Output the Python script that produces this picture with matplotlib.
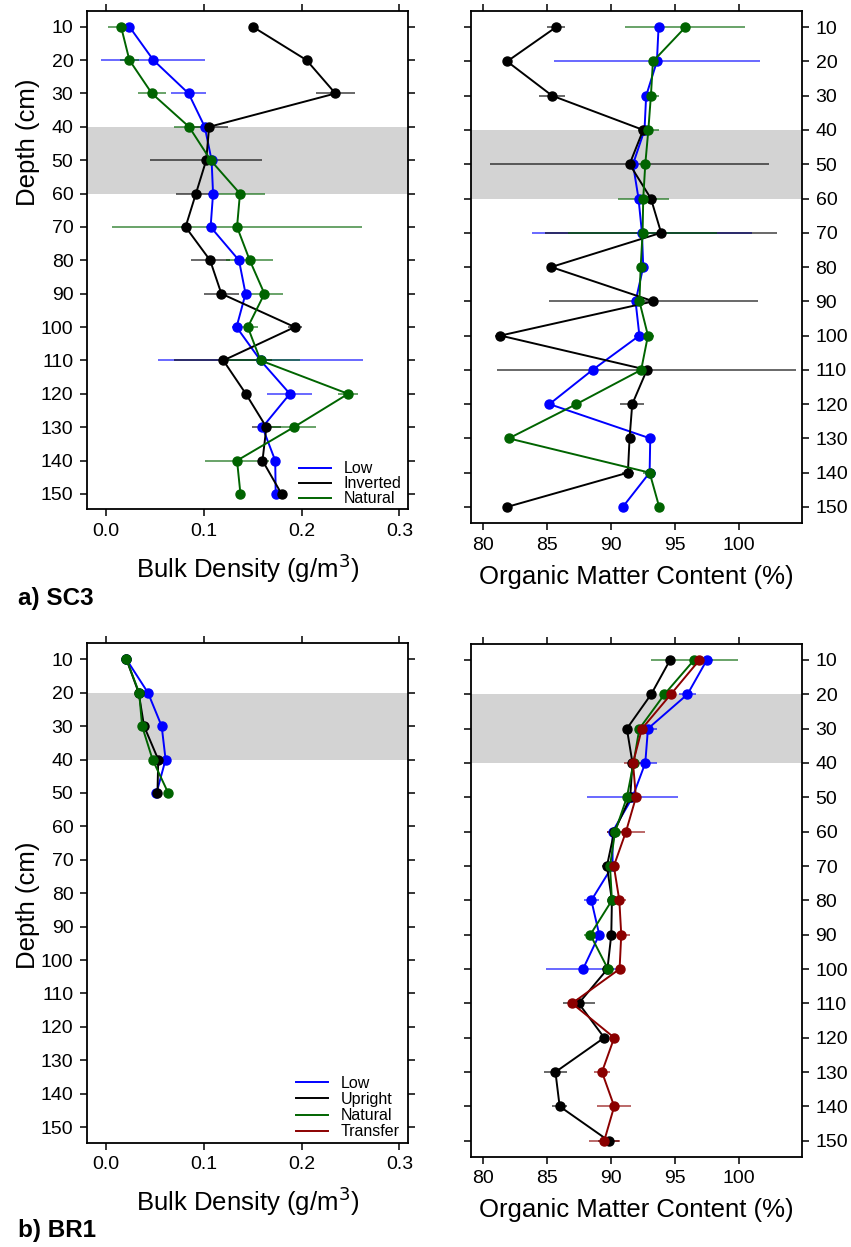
import matplotlib
matplotlib.use('Agg')
import matplotlib.pyplot as plt
from matplotlib.lines import Line2D
from matplotlib.colors import to_rgba
import numpy as np

plt.rcParams['font.family'] = ['Liberation Sans', 'DejaVu Sans']

depth = [10, 20, 30, 40, 50, 60, 70, 80, 90, 100, 110, 120, 130, 140, 150]

# a) SC3 - bulk density
sc3_low_bd = [0.024, 0.0485, 0.0845, 0.101, 0.108, 0.1095, 0.107, 0.136, 0.1427, 0.1335, 0.158, 0.188, 0.160, 0.173, 0.1735]
sc3_low_bd_err = [0.004, 0.053, 0.018, 0.005, 0.005, 0.005, 0.005, 0.005, 0.005, 0.005, 0.105, 0.023, 0.005, 0.003, 0.002]
sc3_inv_bd = [0.150, 0.205, 0.2345, 0.1055, 0.1025, 0.092, 0.0814, 0.1065, 0.118, 0.193, 0.120, 0.143, 0.164, 0.160, 0.1795]
sc3_inv_bd_err = [0.003, 0.004, 0.02, 0.019, 0.057, 0.02, 0.005, 0.02, 0.018, 0.007, 0.05, 0.003, 0.015, 0.003, 0.002]
sc3_nat_bd = [0.0155, 0.024, 0.047, 0.085, 0.107, 0.137, 0.134, 0.147, 0.162, 0.145, 0.158, 0.2475, 0.192, 0.134, 0.1375]
sc3_nat_bd_err = [0.013, 0.01, 0.014, 0.015, 0.005, 0.026, 0.128, 0.024, 0.019, 0.01, 0.04, 0.01, 0.023, 0.033, 0.002]

# a) SC3 - organic matter
sc3_low_om = [93.7, 93.57, 92.73, 92.6, 91.7, 92.13, 92.4, 92.5, 91.9, 92.2, 88.54, 85.16, 93.05, 93.0, 90.9]
sc3_low_om_err = [0.3, 8.05, 0.3, 0.3, 0.3, 0.3, 8.6, 0.2, 0.3, 0.4, 0.3, 0.3, 0.2, 0.3, 0.2]
sc3_inv_om = [85.68, 81.85, 85.37, 92.5, 91.43, 93.1, 93.9, 85.3, 93.3, 81.33, 92.79, 91.64, 91.43, 91.3, 81.85]
sc3_inv_om_err = [0.68, 0.3, 1.0, 0.3, 10.9, 0.5, 9.1, 0.3, 8.2, 0.4, 11.7, 0.94, 0.2, 0.5, 0.2]
sc3_nat_om = [95.8, 93.26, 93.1, 92.9, 92.66, 92.5, 92.45, 92.3, 92.2, 92.87, 92.34, 87.27, 81.98, 93.0, 93.75]
sc3_nat_om_err = [4.7, 0.3, 0.6, 0.8, 0.3, 2.0, 5.8, 0.2, 0.3, 0.5, 0.3, 0.3, 0.3, 0.5, 0.2]

# b) BR1 - bulk density (10-50 cm)
br1_bd_depth = [10, 20, 30, 40, 50]
br1_low_bd = [0.021, 0.043, 0.057, 0.061, 0.0517]
br1_upr_bd = [0.021, 0.0335, 0.039, 0.0535, 0.0527]
br1_nat_bd = [0.021, 0.034, 0.037, 0.0477, 0.0637]
br1_bd_err = [0.002, 0.002, 0.002, 0.002, 0.002]

# b) BR1 - organic matter
br1_short_depth = [10, 20, 30, 40, 50, 60, 70, 80, 90, 100]
br1_low_om = [97.48, 95.96, 92.87, 92.66, 91.66, 90.1, 90.1, 88.44, 89.06, 87.79]
br1_low_om_err = [0.5, 0.7, 0.7, 0.9, 3.55, 0.3, 0.5, 0.6, 0.4, 2.87]
br1_nat_om = [96.48, 94.16, 92.2, 91.74, 91.22, 90.3, 89.9, 90.05, 88.36, 89.74]
br1_nat_om_err = [3.4, 0.3, 0.3, 0.3, 0.3, 0.3, 0.3, 0.3, 0.5, 0.5]
br1_upr_om = [94.6, 93.12, 91.22, 91.66, 91.48, 90.23, 89.66, 90.05, 90.0, 89.7, 87.45, 89.45, 85.63, 85.96, 89.79]
br1_upr_om_err = [0.3, 0.3, 0.3, 0.3, 0.3, 0.6, 0.4, 0.3, 0.3, 0.3, 1.25, 0.3, 0.9, 0.6, 0.8]
br1_trn_om = [96.9, 94.66, 92.4, 91.7, 91.93, 91.15, 90.2, 90.63, 90.78, 90.65, 86.93, 90.23, 89.27, 90.23, 89.45]
br1_trn_om_err = [0.3, 0.3, 0.3, 0.7, 0.3, 1.5, 0.3, 0.5, 0.7, 0.3, 0.3, 0.3, 0.6, 1.35, 1.2]

c_low, c_blk, c_nat, c_trn = '#0000ff', '#000000', '#006400', '#8b0000'

W, H = 851, 1247
fig = plt.figure(figsize=(W / 100, H / 100), dpi=100)


def px_axes(left, right, top, bottom):
    return fig.add_axes([left / W, 1 - bottom / H, (right - left) / W, (bottom - top) / H])


def series(ax, x, y, err, c):
    ax.errorbar(x, y, xerr=err, fmt='o-', color=c, ms=6.5, lw=1.4,
                ecolor=to_rgba(c, 0.75), elinewidth=1.1, capsize=0, zorder=3)


def style(ax, xlim, xticks, xticklabels, xlabel, labels_right):
    ax.set_xlim(*xlim)
    ax.set_ylim(154.6, 5.2)
    ax.set_xticks(xticks)
    ax.set_xticklabels(xticklabels)
    ax.set_yticks(depth)
    ax.set_xlabel(xlabel, fontsize=18.5, labelpad=8)
    ax.tick_params(direction='out', length=5, width=1.1, labelsize=14, pad=5,
                   top=True, bottom=True, left=True, right=True,
                   labeltop=False, labelbottom=True,
                   labelleft=not labels_right, labelright=labels_right)
    for s in ax.spines.values():
        s.set_linewidth(1.3)


bd_ticks = [0.0, 0.1, 0.2, 0.3]
bd_labels = ['0.0', '0.1', '0.2', '0.3']
om_ticks = [80, 85, 90, 95, 100]
om_labels = ['80', '85', '90', '95', '100']
bd_xlabel = 'Bulk Density (g/m$^3$)'
om_xlabel = 'Organic Matter Content (%)'

# ---- a) SC3 ----
ax1 = px_axes(87.3, 408.3, 10.7, 509.3)
ax1.axhspan(40, 60, color='#d3d3d3', zorder=0, lw=0)
series(ax1, sc3_low_bd, depth, sc3_low_bd_err, c_low)
series(ax1, sc3_inv_bd, depth, sc3_inv_bd_err, c_blk)
series(ax1, sc3_nat_bd, depth, sc3_nat_bd_err, c_nat)
style(ax1, (-0.019, 0.309), bd_ticks, bd_labels, bd_xlabel, False)
h1 = [Line2D([], [], color=c, lw=1.4) for c in (c_low, c_blk, c_nat)]
ax1.legend(h1, ['Low', 'Inverted', 'Natural'], loc='lower right',
           bbox_to_anchor=(1 - 6.6 / 321, 3 / 498.6), frameon=False,
           fontsize=11.5, labelspacing=0.0, handlelength=2.0,
           handletextpad=0.8, borderpad=0, borderaxespad=0)

ax2 = px_axes(470.7, 801.7, 10.7, 522.7)
ax2.axhspan(40, 60, color='#d3d3d3', zorder=0, lw=0)
series(ax2, sc3_low_om, depth, sc3_low_om_err, c_low)
series(ax2, sc3_inv_om, depth, sc3_inv_om_err, c_blk)
series(ax2, sc3_nat_om, depth, sc3_nat_om_err, c_nat)
style(ax2, (79.0, 104.9), om_ticks, om_labels, om_xlabel, True)

# ---- b) BR1 ----
ax3 = px_axes(87.3, 408.3, 643.3, 1142.5)
ax3.axhspan(20, 40, color='#d3d3d3', zorder=0, lw=0)
series(ax3, br1_low_bd, br1_bd_depth, br1_bd_err, c_low)
series(ax3, br1_upr_bd, br1_bd_depth, br1_bd_err, c_blk)
series(ax3, br1_nat_bd, br1_bd_depth, br1_bd_err, c_nat)
style(ax3, (-0.019, 0.309), bd_ticks, bd_labels, bd_xlabel, False)
h3 = [Line2D([], [], color=c, lw=1.4) for c in (c_low, c_blk, c_nat, c_trn)]
ax3.legend(h3, ['Low', 'Upright', 'Natural', 'Transfer'], loc='lower right',
           bbox_to_anchor=(1 - 9 / 321, 3 / 499.2), frameon=False,
           fontsize=11.5, labelspacing=0.08, handlelength=2.0,
           handletextpad=0.8, borderpad=0, borderaxespad=0)

ax4 = px_axes(470.7, 801.7, 643.5, 1156.5)
ax4.axhspan(20, 40, color='#d3d3d3', zorder=0, lw=0)
series(ax4, br1_low_om, br1_short_depth, br1_low_om_err, c_low)
series(ax4, br1_upr_om, depth, br1_upr_om_err, c_blk)
series(ax4, br1_nat_om, br1_short_depth, br1_nat_om_err, c_nat)
series(ax4, br1_trn_om, depth, br1_trn_om_err, c_trn)
style(ax4, (79.0, 104.9), om_ticks, om_labels, om_xlabel, True)

fig.text(28 / W, 1 - 142 / H, 'Depth (cm)', rotation=90, ha='center', va='center', fontsize=18.5)
fig.text(28 / W, 1 - 905 / H, 'Depth (cm)', rotation=90, ha='center', va='center', fontsize=18.5)
fig.text(18 / W, 1 - 598 / H, 'a) SC3', ha='left', va='center', fontsize=17.5, fontweight='bold')
fig.text(18 / W, 1 - 1230 / H, 'b) BR1', ha='left', va='center', fontsize=17.5, fontweight='bold')

fig.savefig('out.png', dpi=100)
